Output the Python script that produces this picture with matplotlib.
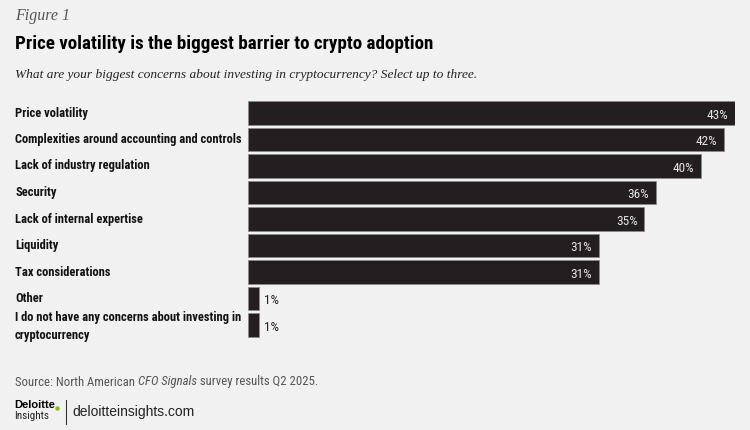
import matplotlib
matplotlib.use("Agg")
import matplotlib.pyplot as plt

categories = ["Price volatility",
              "Complexities around accounting and controls",
              "Lack of industry regulation",
              "Security",
              "Lack of internal expertise",
              "Liquidity",
              "Tax considerations",
              "Other",
              "I do not have any concerns about investing in\ncryptocurrency"]
values = [43, 42, 40, 36, 35, 31, 31, 1, 1]

BG = "#f0f1f0"
BAR = "#231f20"
COND = ["Liberation Sans Narrow", "Roboto Condensed", "DejaVu Sans"]
SERIF = ["Liberation Serif", "DejaVu Serif"]

fig = plt.figure(figsize=(7.5, 4.3), dpi=100, facecolor=BG)
ax = fig.add_axes([248 / 750, 1 - 338.25 / 430, 487 / 750, 238.5 / 430])
ax.set_facecolor(BG)

y = list(range(len(categories)))
ax.barh(y, values, height=0.87, color=BAR, edgecolor="#8a8a8a", linewidth=0.6)
ax.set_xlim(0, 43)
ax.set_ylim(len(categories) - 0.5, -0.5)
ax.axis("off")

for i, (lab, v) in enumerate(zip(categories, values)):
    if v > 5:
        ax.text(v - 0.6, i + 0.08, f"{v}%", ha="right", va="center",
                color="#e6e6e6", fontsize=9.5, family=COND)
    else:
        ax.text(v + 0.4, i + 0.08, f"{v}%", ha="left", va="center",
                color="#231f20", fontsize=9.5, family=COND)
    ty = 1 - (113 + 26.5 * i) / 430
    if "\n" in lab:
        ty -= 0.004
    fig.text(15 / 750, ty, lab, ha="left", va="center", fontsize=9,
             fontweight="bold", family=COND, color="#111", linespacing=1.45)

fig.text(15 / 750, 1 - 16 / 430, "Figure 1", ha="left", va="center",
         fontsize=11.5, style="italic", family=SERIF, color="#555")
fig.text(15 / 750, 1 - 44 / 430,
         "Price volatility is the biggest barrier to crypto adoption",
         ha="left", va="center", fontsize=13.7, fontweight="heavy",
         family=COND, color="#000")
fig.text(15 / 750, 1 - 75 / 430,
         "What are your biggest concerns about investing in cryptocurrency? Select up to three.",
         ha="left", va="center", fontsize=9.6, style="italic", family=SERIF,
         color="#222")

# source line, with the italic survey name
renderer = fig.canvas.get_renderer()
x = 15 / 750
for piece, st in [("Source: North American ", "normal"), ("CFO Signals", "italic"),
                  (" survey results Q2 2025.", "normal")]:
    t = fig.text(x, 1 - 382 / 430, piece, ha="left", va="center", fontsize=9.2,
                 style=st, family=COND, color="#555")
    x += t.get_window_extent(renderer).width / 750

fig.text(14 / 750, 1 - 405 / 430, "Deloitte", ha="left", va="center",
         fontsize=8, fontweight="bold", family=["Liberation Sans", "DejaVu Sans"],
         color="#000")
fig.add_artist(plt.Line2D([56.5 / 750], [1 - 408 / 430], marker="o", ms=2.2,
                          color="#86bc25", transform=fig.transFigure))
fig.text(14 / 750, 1 - 416 / 430, "Insights", ha="left", va="center",
         fontsize=8, family=COND, color="#222")
fig.add_artist(plt.Line2D([66 / 750, 66 / 750], [1 - 400 / 430, 1 - 424 / 430],
                          color="#333", lw=0.8, transform=fig.transFigure))
fig.text(72 / 750, 1 - 412 / 430, "deloitteinsights.com", ha="left",
         va="center", fontsize=10, family=["Liberation Sans", "DejaVu Sans"],
         color="#222")

fig.savefig("out.png", dpi=100, facecolor=BG)
